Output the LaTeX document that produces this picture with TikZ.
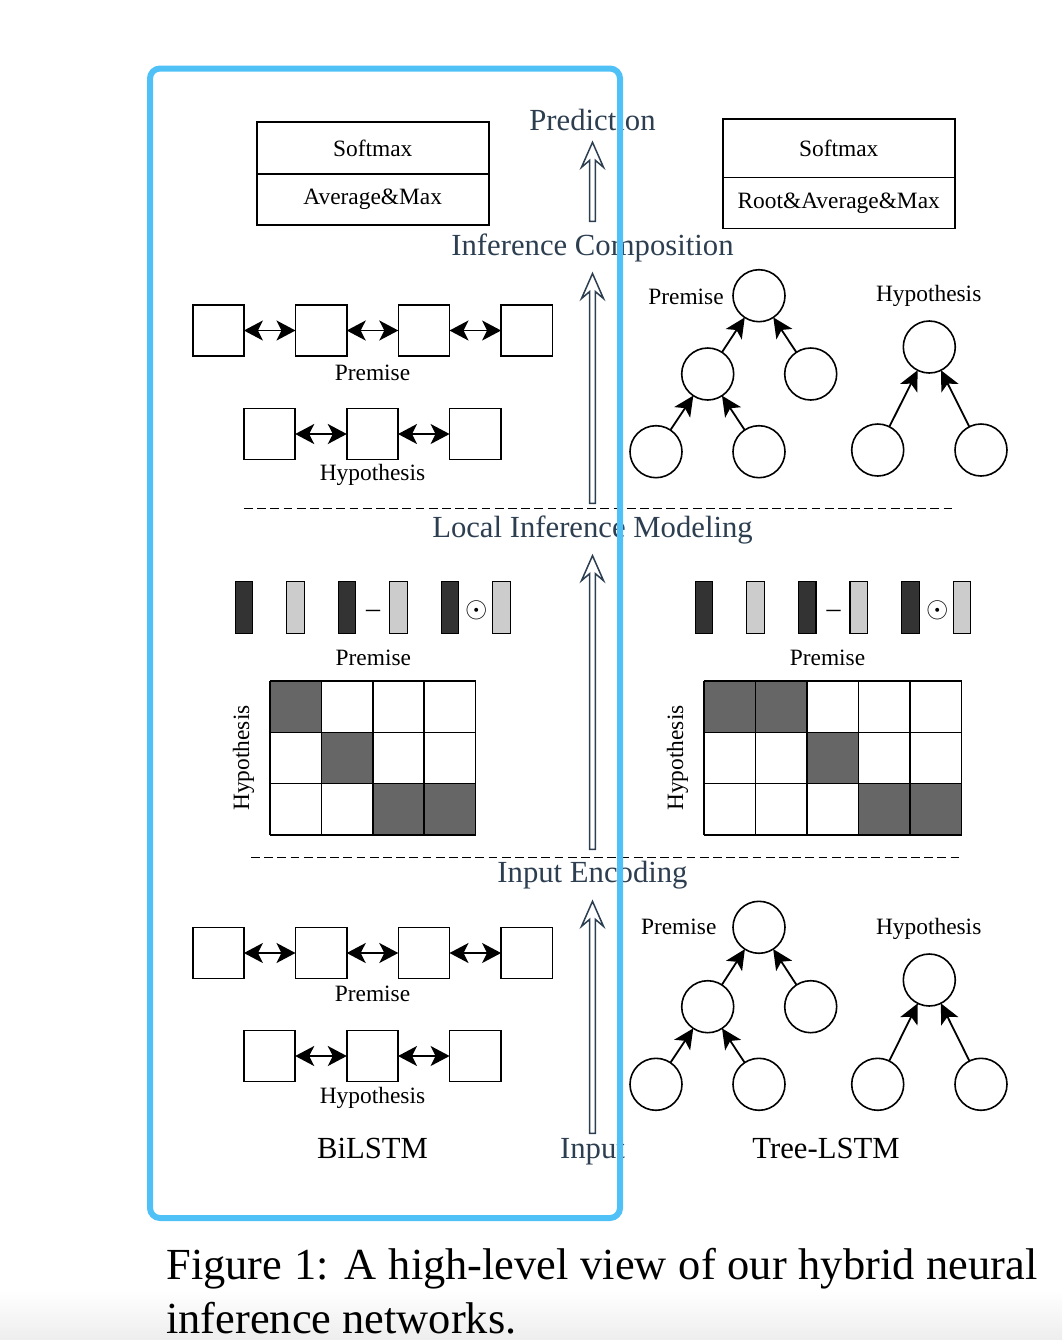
\documentclass[tikz,border=0pt]{standalone}
\usepackage{fontspec}
\setmainfont{Liberation Serif}
\usetikzlibrary{positioning,arrows.meta,calc}
\definecolor{slate}{HTML}{2C3E50}
\definecolor{frameblue}{HTML}{4FC1F7}
\definecolor{barDark}{HTML}{333333}
\definecolor{barLight}{HTML}{CCCCCC}
\definecolor{cellDark}{HTML}{666666}
\newcommand{\lblfont}{\fontsize{11.7}{14}\selectfont}
\newcommand{\stagefont}{\fontsize{15.35}{18}\selectfont}
\newcommand{\opfont}{\fontsize{14}{16}\selectfont}
\tikzstyle{box}=[draw, line width=0.8pt, minimum width=116pt, inner sep=0, outer sep=0, font=\lblfont]
\tikzstyle{cell}=[draw, line width=0.8pt, minimum size=25.6pt, inner sep=0, outer sep=0]
\tikzstyle{unit}=[draw, circle, line width=0.8pt, minimum size=26pt, inner sep=0, outer sep=0]
\tikzstyle{darkbar}=[draw, line width=0.6pt, fill=barDark, minimum width=8.75pt, minimum height=26pt, inner sep=0]
\tikzstyle{lightbar}=[darkbar, fill=barLight]
\tikzstyle{lbl}=[font=\lblfont, inner sep=0, anchor=base]
\tikzstyle{stage}=[font=\stagefont, text=slate, inner sep=6pt, outer sep=0, anchor=base]
\tikzstyle{bilink}=[{Stealth[length=9.5pt,width=10pt,inset=2.5pt]}-{Stealth[length=9.5pt,width=10pt,inset=2.5pt]}, line width=0.9pt]
\tikzstyle{childlink}=[-{Stealth[length=10pt,width=9.5pt,inset=2.5pt]}, line width=0.9pt]
\tikzstyle{flow}=[draw=slate, fill=white, line width=0.75pt,
    to path={let \p1=(\tikztostart), \p2=(\tikztotarget) in
        (\x1-1.4pt,\y1) -- (\x1-1.4pt,\y2-9pt) -- (\x1-5.5pt,\y2-12.5pt) -- (\x2,\y2)
        -- (\x1+5.5pt,\y2-12.5pt) -- (\x1+1.4pt,\y2-9pt) -- (\x1+1.4pt,\y1) -- cycle}]

\begin{document}
\begin{tikzpicture}[x=0.5pt, y=0.5pt, node distance=25.8pt]
        \useasboundingbox (0,0) rectangle (1062,-1340);
        \shade[top color=white, bottom color=black!7] (0,-1290) rectangle (1062,-1340);

        % output layers
        \node[box, minimum height=26pt] (lsoft) at (372.7,-148) {Softmax};
        \node[box, minimum height=25.5pt, below=0pt of lsoft] (lpool) {Average\&Max};
        \node[box, minimum height=29.2pt] (rsoft) at (838.7,-148.2) {Softmax};
        \node[box, minimum height=25.5pt, below=0pt of rsoft] (rpool) {Root\&Average\&Max};

        % stages
        \node[stage] (pred) at (592.5,-130) {Prediction};
        \node[stage] (comp) at (592.5,-255) {Inference Composition};
        \node[stage] (lim) at (592.5,-537) {Local Inference Modeling};
        \node[stage] (enc) at (592.5,-882.7) {Input Encoding};
        \node[stage, inner sep=2.3pt] (inp) at (592.5,-1158) {Input};

        \draw[flow] (inp.north) to (enc.south);
        \draw[flow] (enc.north) to (lim.south);
        \draw[flow] (lim.north) to (comp.south);
        \draw[flow] (comp.north) to (pred.south);

        % BiLSTM composition
        \node[cell] (cp1) at (218.3,-330.5) {};
        \node[cell, right=of cp1] (cp2) {};
        \node[cell, right=of cp2] (cp3) {};
        \node[cell, right=of cp3] (cp4) {};
        \node[lbl] (cpl) at (372.5,-380) {Premise};
        \node[cell] (ch1) at (269.6,-434) {};
        \node[cell, right=of ch1] (ch2) {};
        \node[cell, right=of ch2] (ch3) {};
        \node[lbl] (chl) at (372.5,-480) {Hypothesis};

        \draw[bilink] (cp1) -- (cp2);
        \draw[bilink] (cp2) -- (cp3);
        \draw[bilink] (cp3) -- (cp4);
        \draw[bilink] (ch1) -- (ch2);
        \draw[bilink] (ch2) -- (ch3);

        % BiLSTM encoding
        \node[cell] (ep1) at (218.3,-953) {};
        \node[cell, right=of ep1] (ep2) {};
        \node[cell, right=of ep2] (ep3) {};
        \node[cell, right=of ep3] (ep4) {};
        \node[lbl] (epl) at (372.5,-1001.7) {Premise};
        \node[cell] (eh1) at (269.6,-1056) {};
        \node[cell, right=of eh1] (eh2) {};
        \node[cell, right=of eh2] (eh3) {};
        \node[lbl] (ehl) at (372.5,-1103.3) {Hypothesis};
        \node[lbl, font=\stagefont] (bilstm) at (372.5,-1158.3) {BiLSTM};

        \draw[bilink] (ep1) -- (ep2);
        \draw[bilink] (ep2) -- (ep3);
        \draw[bilink] (ep3) -- (ep4);
        \draw[bilink] (eh1) -- (eh2);
        \draw[bilink] (eh2) -- (eh3);

        % Tree-LSTM composition
        \node[unit] (ctr) at (759,-295.7) {};
        \node[unit] (ctm1) at (707.7,-374) {};
        \node[unit] (ctm2) at (810.7,-374) {};
        \node[unit] (ctl1) at (656,-451.7) {};
        \node[unit] (ctl2) at (759,-451.7) {};
        \node[lbl] (ctp) at (686,-304) {Premise};
        \node[unit] (cthr) at (929.3,-347) {};
        \node[unit] (cthl1) at (877.7,-450) {};
        \node[unit] (cthl2) at (981,-450) {};
        \node[lbl] (cth) at (928.7,-301) {Hypothesis};

        \draw[childlink] (ctm1) -- (ctr);
        \draw[childlink] (ctm2) -- (ctr);
        \draw[childlink] (ctl1) -- (ctm1);
        \draw[childlink] (ctl2) -- (ctm1);
        \draw[childlink] (cthl1) -- (cthr);
        \draw[childlink] (cthl2) -- (cthr);

        % Tree-LSTM encoding
        \node[unit] (etr) at (759,-927.3) {};
        \node[unit] (etm1) at (707.7,-1006.7) {};
        \node[unit] (etm2) at (810.7,-1006.7) {};
        \node[unit] (etl1) at (656,-1084.3) {};
        \node[unit] (etl2) at (759,-1084.3) {};
        \node[lbl] (etp) at (678.7,-934.3) {Premise};
        \node[unit] (ethr) at (929.3,-980) {};
        \node[unit] (ethl1) at (877.7,-1084.3) {};
        \node[unit] (ethl2) at (981,-1084.3) {};
        \node[lbl] (eth) at (928.7,-934.3) {Hypothesis};
        \node[lbl, font=\stagefont] (treelstm) at (826,-1158) {Tree-LSTM};

        \draw[childlink] (etm1) -- (etr);
        \draw[childlink] (etm2) -- (etr);
        \draw[childlink] (etl1) -- (etm1);
        \draw[childlink] (etl2) -- (etm1);
        \draw[childlink] (ethl1) -- (ethr);
        \draw[childlink] (ethl2) -- (ethr);

        % local inference, left
        \node[darkbar] (lb1) at (244,-607.5) {};
        \node[lightbar] (lb2) at (295.5,-607.5) {};
        \node[darkbar] (lb3) at (347,-607.5) {};
        \node[lightbar] (lb4) at (398.5,-607.5) {};
        \node[darkbar] (lb5) at (450,-607.5) {};
        \node[lightbar] (lb6) at (501.5,-607.5) {};
        \node[lbl, font=\opfont] (lminus) at (373,-617) {–};
        \node[lbl, font=\opfont] (lodot) at (476.5,-617) {$\odot$};
        \node[lbl] (lprem) at (373.3,-665) {Premise};
        \node[lbl, anchor=center, rotate=90] (lhyp) at (243.5,-758) {Hypothesis};
        \begin{scope}[shift={(270,-835)}, x=25.7pt, y=25.67pt]
            \fill[cellDark] (0,2) rectangle (1,3) (1,1) rectangle (2,2) (2,0) rectangle (4,1);
            \draw[line width=0.8pt] (0,0) grid[step=1] (4,3);
        \end{scope}

        % local inference, right
        \node[darkbar] (rb1) at (704,-607.5) {};
        \node[lightbar] (rb2) at (755.6,-607.5) {};
        \node[darkbar] (rb3) at (807.2,-607.5) {};
        \node[lightbar] (rb4) at (858.8,-607.5) {};
        \node[darkbar] (rb5) at (910.4,-607.5) {};
        \node[lightbar] (rb6) at (962,-607.5) {};
        \node[lbl, font=\opfont] (rminus) at (833.5,-617) {–};
        \node[lbl, font=\opfont] (rodot) at (938,-617) {$\odot$};
        \node[lbl] (rprem) at (827.5,-665) {Premise};
        \node[lbl, anchor=center, rotate=90] (rhyp) at (677.5,-758) {Hypothesis};
        \begin{scope}[shift={(704,-835)}, x=25.77pt, y=25.67pt]
            \fill[cellDark] (0,2) rectangle (2,3) (2,1) rectangle (3,2) (3,0) rectangle (5,1);
            \draw[line width=0.8pt] (0,0) grid[step=1] (5,3);
        \end{scope}

        % separators
        \draw[line width=0.9pt, dash pattern=on 4.4pt off 2.2pt] (244,-508.5) -- (955,-508.5);
        \draw[line width=0.9pt, dash pattern=on 4.4pt off 2.2pt] (251,-857.5) -- (962,-857.5);

        % highlight frame
        \draw[frameblue, line width=3pt, rounded corners=5pt] (150,-68.5) rectangle (620,-1218);

        \node[anchor=base west, text width=435.5pt, align=justify, inner sep=0,
            font=\fontsize{22.2}{27}\selectfont] (caption) at (166,-1279.3)
            {Figure 1: A high-level view of our hybrid neural\linebreak inference networks.};
    \end{tikzpicture}
\end{document}
